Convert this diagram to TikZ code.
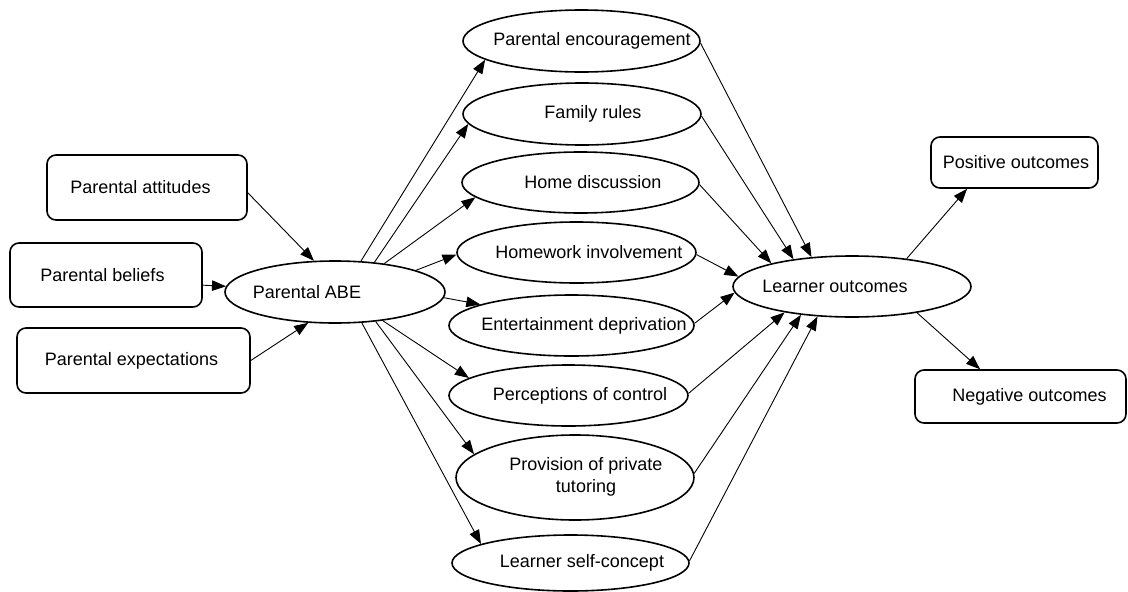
\documentclass[tikz,border=0pt]{standalone}
\usepackage{fontspec}
\setmainfont{Liberation Sans}
\usetikzlibrary{shapes.geometric,arrows.meta}
\newcommand\shtext[2]{\makebox[0pt]{\hspace*{#1}#2}}
\begin{document}
\begin{tikzpicture}[x=1pt,y=-1pt,
  every node/.style={font=\fontsize{18}{22}\selectfont, inner sep=0pt},
  oval/.style={ellipse, draw, line width=1.6pt},
  box/.style={rectangle, draw, rounded corners=9pt, line width=1.6pt},
  conn/.style={line width=0.9pt, -{Triangle[length=14pt,width=10.5pt]}}]
\useasboundingbox (0,0) rectangle (1128,592);
% left boxes
\node[box, minimum width=200pt, minimum height=65pt] (att) at (147,187.5) {\shtext{-13pt}{Parental attitudes}};
\node[box, minimum width=192pt, minimum height=64pt] (bel) at (106,275) {\shtext{-7pt}{Parental beliefs}};
\node[box, minimum width=233pt, minimum height=65pt] (exp) at (133.5,360.5) {\shtext{-4pt}{Parental expectations}};
% ABE
\node[oval, minimum width=220pt, minimum height=62pt] (abe) at (335,292) {\shtext{-56pt}{Parental ABE}};
% middle ellipses
\node[oval, minimum width=237pt, minimum height=62pt] (pe) at (581.5,41) {\shtext{21pt}{Parental encouragement}};
\node[oval, minimum width=238pt, minimum height=62pt] (fr) at (582,114) {\shtext{22pt}{Family rules}};
\node[oval, minimum width=237pt, minimum height=61pt] (hd) at (580.5,182.5) {\shtext{25pt}{Home discussion}};
\node[oval, minimum width=239pt, minimum height=61pt] (hi) at (576.5,252.5) {\shtext{25pt}{Homework involvement}};
\node[oval, minimum width=245pt, minimum height=61pt] (ed) at (571.5,325.5) {\shtext{25pt}{Entertainment deprivation}};
\node[oval, minimum width=239pt, minimum height=61pt] (pc) at (568.5,395.5) {\shtext{23pt}{Perceptions of control}};
\node[oval, minimum width=238pt, minimum height=85pt] (ppt) at (575,477.5) {\shtext{22pt}{\begin{tabular}{@{}c@{}}Provision of private\\tutoring\end{tabular}}};
\node[oval, minimum width=237pt, minimum height=56pt] (lsc) at (570.5,563) {\shtext{23pt}{Learner self-concept}};
% learner outcomes
\node[oval, minimum width=238pt, minimum height=61pt] (lo) at (852,286.5) {\shtext{-34pt}{Learner outcomes}};
% right boxes
\node[box, minimum width=167pt, minimum height=51pt] (pos) at (1014.5,162.5) {\shtext{3pt}{Positive outcomes}};
\node[box, minimum width=211pt, minimum height=53pt] (neg) at (1020.5,396.5) {\shtext{18pt}{Negative outcomes}};
% left connectors
\draw[conn] (att.-3) -- (abe.124);
\draw[conn] (bel.-6.5) -- (abe.177);
\draw[conn] (exp.east) -- (abe.229);
% ABE to middle
\draw[conn] (abe.50) -- (pe.191.4);
\draw[conn] (abe.37.8) -- (fr.185.7);
\draw[conn] (abe.30) -- (hd.188.3);
\draw[conn] (abe.15.8) -- (hi.181.4);
\draw[conn] (abe.-3) -- (ed.167.3);
\draw[conn] (abe.-31) -- (pc.170.5);
\draw[conn] (abe.-36) -- (ppt.167.9);
\draw[conn] (abe.-49) -- (lsc.168.2);
% middle to learner outcomes
\draw[conn] (pe.-1.9) -- (lo.144.4);
\draw[conn] (fr.-1.4) -- (lo.155.3);
\draw[conn] (hd.-1.2) -- (lo.164.3);
\draw[conn] (hi.-1.4) -- (lo.175.9);
\draw[conn] (ed.1.2) -- (lo.183.1);
\draw[conn] (pc.1.7) -- (lo.201.1);
\draw[conn] (ppt.2.6) -- (lo.209.5);
\draw[conn] (lsc.1.4) -- (lo.221);
% outcomes
\draw[conn] (lo.27) -- (pos.209.8);
\draw[conn] (lo.-22.7) -- (neg.146);
\end{tikzpicture}
\end{document}
